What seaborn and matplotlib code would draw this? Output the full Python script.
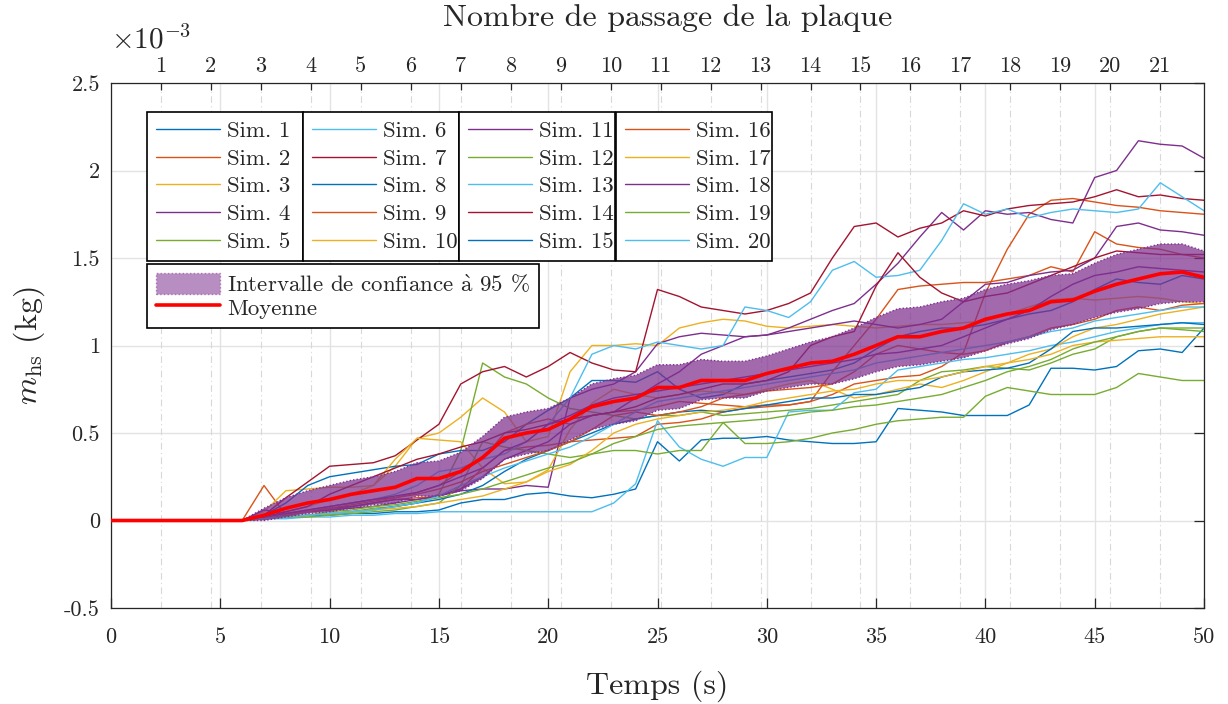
import numpy as np
import pandas as pd
import matplotlib
matplotlib.use("Agg")
import matplotlib.pyplot as plt
import seaborn as sns
from matplotlib.lines import Line2D
from matplotlib.patches import Patch

# ---------------- data (values in 1e-3 kg) ----------------
t = [0, 6, 7, 8, 9, 10, 11, 12, 13, 14, 15, 16, 17, 18, 19, 20, 21, 22, 23, 24, 25,
     26, 27, 28, 29, 30, 31, 32, 33, 34, 35, 36, 37, 38, 39, 40, 41, 42, 43, 44, 45,
     46, 47, 48, 49, 50]

sim1 = [0, 0, .01, .02, .03, .03, .04, .04, .05, .05, .06, .10, .12, .12, .15, .16,
        .14, .13, .15, .18, .45, .34, .46, .47, .47, .48, .46, .45, .44, .44, .45,
        .64, .63, .62, .60, .60, .60, .66, .87, .87, .86, .88, .97, .98, .96, 1.10]
sim2 = [0, 0, .20, .03, .05, .06, .08, .10, .12, .13, .14, .18, .30, .40, .42, .43,
        .45, .46, .47, .48, .55, .56, .58, .62, .64, .65, .66, .68, .72, .78, .80,
        .82, .83, .88, .96, 1.30, 1.55, 1.75, 1.83, 1.84, 1.82, 1.80, 1.79, 1.77, 1.76, 1.75]
sim3 = [0, 0, .05, .17, .18, .19, .19, .20, .31, .47, .50, .59, .70, .62, .45, .48,
        .85, 1.00, 1.00, 1.01, 1.00, 1.10, 1.13, 1.15, 1.14, 1.11, 1.10, 1.11, 1.12, 1.11, 1.10,
        1.11, 1.12, 1.12, 1.13, 1.14, 1.18, 1.22, 1.26, 1.27, 1.26, 1.27, 1.28, 1.27, 1.25, 1.24]
sim4 = [0, 0, .06, .04, .05, .07, .08, .10, .12, .12, .14, .17, .18, .18, .20, .19,
        .70, .75, .78, .85, 1.01, 1.05, 1.07, 1.06, 1.05, 1.06, 1.10, 1.15, 1.20, 1.24, 1.35,
        1.47, 1.62, 1.76, 1.66, 1.77, 1.75, 1.76, 1.72, 1.70, 1.96, 2.00, 2.17, 2.15, 2.14, 2.07]
sim5 = [0, 0, .01, .02, .03, .04, .05, .07, .08, .10, .15, .40, .90, .82, .78, .70,
        .64, .62, .60, .58, .60, .60, .62, .60, .61, .62, .63, .64, .66, .68, .70,
        .72, .80, .85, .86, .88, .87, .86, .90, .95, .98, 1.05, 1.08, 1.10, 1.09, 1.08]
sim6 = [0, 0, .01, .01, .02, .02, .03, .03, .04, .04, .05, .05, .05, .05, .05, .05,
        .05, .05, .10, .21, .57, .42, .35, .31, .36, .36, .62, .63, .63, .73, .75,
        .86, .88, .90, .92, .93, .95, .97, 1.00, 1.02, 1.05, 1.08, 1.10, 1.12, 1.13, 1.13]
sim7 = [0, 0, .03, .13, .22, .31, .32, .33, .37, .46, .55, .78, .85, .88, .82, .88,
        .96, .90, .86, .85, 1.32, 1.28, 1.22, 1.20, 1.18, 1.20, 1.24, 1.30, 1.50, 1.68, 1.70,
        1.62, 1.67, 1.70, 1.77, 1.74, 1.78, 1.80, 1.81, 1.82, 1.85, 1.89, 1.85, 1.86, 1.84, 1.83]
sim8 = [0, 0, .03, .10, .20, .25, .27, .29, .31, .32, .38, .40, .40, .45, .55, .63,
        .70, .80, .80, .79, .85, .75, .70, .72, .78, .80, .82, .84, .86, .90, .98,
        1.05, 1.08, 1.10, 1.10, 1.12, 1.15, 1.18, 1.20, 1.25, 1.32, 1.38, 1.36, 1.35, 1.40, 1.38]
sim9 = [0, 0, .02, .04, .06, .08, .10, .12, .13, .16, .20, .28, .35, .50, .55, .58,
        .55, .60, .62, .63, .65, .68, .67, .66, .65, .66, .66, .68, .85, 1.00, 1.15,
        1.32, 1.34, 1.35, 1.36, 1.36, 1.38, 1.40, 1.45, 1.42, 1.65, 1.58, 1.56, 1.55, 1.52, 1.50]
sim10 = [0, 0, .02, .05, .08, .12, .15, .20, .35, .47, .46, .45, .30, .21, .22, .29,
         .52, .67, .75, .72, .70, .72, .74, .73, .72, .75, .78, .80, .75, .70, .72,
         .75, .78, .76, .80, .85, .90, .95, .98, 1.05, 1.10, 1.12, 1.15, 1.18, 1.20, 1.22]
sim11 = [0, 0, .01, .03, .05, .06, .07, .08, .10, .12, .14, .18, .25, .35, .40, .45,
         .55, .60, .62, .70, .78, .85, .95, 1.00, 1.05, 1.06, 1.08, 1.10, 1.12, 1.14, 1.12,
         1.10, 1.12, 1.15, 1.25, 1.35, 1.36, 1.40, 1.42, 1.43, 1.50, 1.68, 1.70, 1.66, 1.65, 1.63]
sim12 = [0, 0, .01, .02, .02, .03, .04, .05, .06, .08, .10, .20, .45, .42, .40, .38,
         .36, .38, .40, .40, .38, .40, .40, .56, .44, .44, .45, .47, .50, .52, .55,
         .57, .58, .59, .59, .71, .76, .74, .72, .72, .72, .76, .84, .82, .80, .80]
sim13 = [0, 0, .01, .03, .05, .08, .10, .12, .15, .20, .28, .30, .35, .38, .45, .55,
         .70, .95, 1.00, .98, 1.02, 1.00, .98, 1.00, 1.22, 1.20, 1.16, 1.25, 1.43, 1.48, 1.39,
         1.40, 1.43, 1.60, 1.81, 1.75, 1.78, 1.73, 1.76, 1.78, 1.77, 1.76, 1.78, 1.93, 1.85, 1.77]
sim14 = [0, 0, .02, .05, .08, .15, .20, .25, .30, .35, .38, .42, .45, .50, .52, .55,
         .58, .60, .62, .65, .70, .72, .75, .78, .78, .80, .85, 1.00, 1.05, 1.08, 1.34,
         1.53, 1.39, 1.30, 1.25, 1.28, 1.30, 1.35, 1.40, 1.45, 1.50, 1.54, 1.53, 1.52, 1.52, 1.52]
sim15 = [0, 0, .01, .02, .03, .04, .05, .06, .08, .10, .12, .15, .20, .28, .35, .40,
         .45, .50, .55, .58, .60, .62, .63, .62, .64, .66, .68, .70, .70, .72, .72,
         .74, .76, .82, .85, .86, .87, .90, .98, 1.08, 1.10, 1.10, 1.11, 1.12, 1.13, 1.12]
sim16 = [0, 0, .01, .03, .05, .07, .09, .11, .13, .15, .18, .22, .28, .32, .36, .40,
         .45, .52, .60, .62, .60, .62, .65, .70, .72, .74, .75, .76, .78, .85, .95,
         1.00, .98, .96, .95, .97, 1.02, 1.05, 1.10, 1.12, 1.15, 1.20, 1.22, 1.20, 1.23, 1.24]
sim17 = [0, 0, .01, .02, .03, .04, .05, .06, .07, .08, .10, .12, .14, .18, .22, .28,
         .32, .40, .50, .55, .58, .60, .62, .63, .65, .68, .70, .72, .74, .75, .78,
         .80, .80, .82, .85, .88, .90, .92, .95, 1.00, 1.02, 1.03, 1.04, 1.05, 1.05, 1.05]
sim18 = [0, 0, .02, .04, .06, .08, .10, .12, .14, .16, .20, .25, .30, .40, .45, .55,
         .60, .66, .70, .72, .74, .76, .78, .80, .82, .84, .86, .88, .90, .92, .95,
         .96, .98, 1.00, 1.05, 1.10, 1.15, 1.20, 1.28, 1.35, 1.40, 1.42, 1.45, 1.44, 1.43, 1.42]
sim19 = [0, 0, .01, .02, .03, .05, .06, .08, .09, .11, .13, .15, .18, .22, .26, .30,
         .33, .38, .44, .48, .52, .54, .55, .56, .57, .58, .60, .62, .63, .65, .66,
         .68, .70, .72, .76, .80, .85, .88, .92, .98, 1.02, 1.05, 1.08, 1.10, 1.10, 1.10]
sim20 = [0, 0, .01, .02, .03, .04, .05, .06, .08, .10, .14, .20, .25, .30, .34, .38,
         .42, .48, .55, .62, .68, .70, .72, .74, .76, .78, .80, .82, .84, .86, .90,
         .92, .94, .96, .98, 1.00, 1.02, 1.05, 1.08, 1.10, 1.14, 1.16, 1.18, 1.20, 1.22, 1.22]

mean_t = [0, 6, 7, 8, 9, 10, 11, 12, 13, 14, 15, 16, 17, 18, 19, 20, 21, 22, 23, 24, 25,
          26, 27, 28, 29, 30, 31, 32, 33, 34, 35, 36, 37, 38, 39, 40, 41, 42, 43, 44, 45,
          46, 47, 48, 49, 50]
mean_vals = [0, 0, .03, .07, .10, .12, .15, .17, .19, .24, .24, .28, .36, .47, .50, .52,
             .58, .65, .68, .70, .76, .76, .80, .80, .80, .84, .87, .90, .91, .95, 1.00,
             1.05, 1.05, 1.08, 1.10, 1.15, 1.18, 1.20, 1.25, 1.26, 1.31, 1.35, 1.38, 1.41, 1.42, 1.39]
ci_low = [0, 0, 0, .02, .04, .05, .07, .09, .10, .14, .14, .17, .24, .35, .38, .40,
          .46, .52, .55, .57, .63, .64, .69, .70, .70, .74, .76, .78, .78, .81, .85,
          .88, .89, .91, .93, .97, 1.01, 1.04, 1.09, 1.12, 1.16, 1.19, 1.21, 1.24, 1.25, 1.25]
ci_high = [0, 0, .07, .13, .17, .20, .23, .25, .28, .33, .34, .39, .48, .59, .62, .64,
           .70, .78, .81, .83, .89, .89, .92, .91, .91, .94, .98, 1.02, 1.05, 1.10, 1.16,
           1.21, 1.22, 1.25, 1.27, 1.32, 1.35, 1.37, 1.40, 1.41, 1.47, 1.52, 1.55, 1.58, 1.58, 1.54]

sims = [sim1, sim2, sim3, sim4, sim5, sim6, sim7, sim8, sim9, sim10,
        sim11, sim12, sim13, sim14, sim15, sim16, sim17, sim18, sim19, sim20]
sim_labels = [f"Sim. {i}" for i in range(1, 21)]

pass_numbers = list(range(1, 22))
pass_period = 16 / 7  # seconds per plate pass

y_ticks = [-0.5, 0, 0.5, 1, 1.5, 2, 2.5]
y_ticklabels = ["-0.5", "0", "0.5", "1", "1.5", "2", "2.5"]
x_ticks = [0, 5, 10, 15, 20, 25, 30, 35, 40, 45, 50]

matlab_colors = ["#0072BD", "#D95319", "#EDB120", "#7E2F8E", "#77AC30", "#4DBEEE", "#A2142F"]
colors = [matlab_colors[i % 7] for i in range(20)]

# ---------------- style ----------------
sns.set_theme(style="white")
plt.rcParams["font.family"] = ["cmr10", "DejaVu Serif"]
plt.rcParams["mathtext.fontset"] = "cm"
plt.rcParams["axes.unicode_minus"] = False
plt.rcParams["axes.formatter.use_mathtext"] = True

fig = plt.figure(figsize=(12.28, 7.04), dpi=100)
ax = fig.add_axes([111 / 1228, 96 / 704, 1093 / 1228, 525 / 704])

dark = "#262626"

# grid
for xv in x_ticks:
    ax.axvline(xv, color="#e3e3e3", lw=1.0, zorder=0)
for yv in y_ticks:
    ax.axhline(yv, color="#e3e3e3", lw=1.0, zorder=0)
for n in pass_numbers:
    ax.axvline(n * pass_period, color="#d8d8d8", lw=0.8, ls=(0, (6, 3, 1, 3)), zorder=0)

# simulations
df = pd.DataFrame({
    "t": np.tile(t, len(sims)),
    "m": np.concatenate([np.asarray(s) for s in sims]),
    "sim": np.repeat(sim_labels, len(t)),
})
sns.lineplot(data=df, x="t", y="m", hue="sim", palette=dict(zip(sim_labels, colors)),
             estimator=None, legend=False, linewidth=1.0, ax=ax, zorder=2)

# confidence band and mean
band_color = "#7E2F8E"
ax.fill_between(mean_t, ci_low, ci_high, facecolor=band_color, alpha=0.72,
                edgecolor="none", zorder=3)
ax.plot(mean_t, ci_low, color=band_color, lw=1.0, ls=(0, (1, 1.5)), zorder=3)
ax.plot(mean_t, ci_high, color=band_color, lw=1.0, ls=(0, (1, 1.5)), zorder=3)
sns.lineplot(x=mean_t, y=mean_vals, color="#FF0000", linewidth=2.6, ax=ax, zorder=4)

# axes
ax.set_xlim(0, 50)
ax.set_ylim(-0.5, 2.5)
ax.set_xticks(x_ticks)
ax.set_xticklabels([str(v) for v in x_ticks])
ax.set_yticks(y_ticks)
ax.set_yticklabels(y_ticklabels)
ax.tick_params(axis="both", direction="in", length=7, width=0.9, colors=dark,
               labelsize=16, top=True, right=True, pad=8)
ax.tick_params(axis="x", labeltop=False, pad=14)
for sp in ax.spines.values():
    sp.set_color(dark)
    sp.set_linewidth(0.9)
ax.set_xlabel("Temps (s)", fontsize=23, color=dark, labelpad=17)
ax.set_ylabel(r"$m_{\mathrm{hs}}$ (kg)", fontsize=23, color=dark, labelpad=12)
ax.grid(False)

ax2 = ax.twiny()
ax2.set_xlim(0, 50)
ax2.set_xticks([n * pass_period for n in pass_numbers])
ax2.set_xticklabels([str(n) for n in pass_numbers])
ax2.tick_params(axis="x", direction="in", length=5, width=0.9, colors=dark,
                labelsize=16, pad=5)
for sp in ax2.spines.values():
    sp.set_visible(False)
ax2.set_xlabel("Nombre de passage de la plaque", fontsize=23, color=dark)
ax2.xaxis.set_label_coords((668 - 111) / 1093, (608 - 18) / 525)
ax2.xaxis.label.set_va("center")
ax2.grid(False)

fig.text(111 / 1228, 1 - 40 / 704, r"$\times 10^{-3}$", fontsize=21, color=dark,
         ha="left", va="center")

# legends
handles = [Line2D([], [], color=c, lw=1.0) for c in colors]
W = 1093.0
H = 525.0
col_x = [147, 303, 459, 616]
for c in range(4):
    x0 = (col_x[c] - 111) / W
    leg = ax.legend(handles[5 * c:5 * c + 5], sim_labels[5 * c:5 * c + 5],
                    loc="upper left", bbox_to_anchor=(x0, (608 - 112) / H, 156 / W, 0),
                    mode="expand", fontsize=16.5, frameon=True, fancybox=False,
                    framealpha=1, edgecolor="black", handlelength=2.8,
                    handletextpad=0.3, labelspacing=0.33, borderpad=0.4,
                    borderaxespad=0)
    leg.get_frame().set_linewidth(1.2)
    leg.set_zorder(10)
    ax.add_artist(leg)

band_handle = Patch(facecolor=band_color, alpha=0.55, edgecolor=band_color,
                    linestyle=":", linewidth=1.0)
mean_handle = Line2D([], [], color="#FF0000", lw=2.6)
leg2 = ax.legend([band_handle, mean_handle],
                 ["Intervalle de confiance " + r"$\mathrm{\grave{a}}$" + " 95 %", "Moyenne"],
                 loc="upper left", bbox_to_anchor=((147 - 111) / W, (608 - 264) / H, 392 / W, 0),
                 mode="expand", fontsize=16.5, frameon=True, fancybox=False, framealpha=1,
                 edgecolor="black", handlelength=2.8, handleheight=1.0,
                 handletextpad=0.3, labelspacing=0.05, borderpad=0.4, borderaxespad=0)
leg2.get_frame().set_linewidth(1.2)
leg2.set_zorder(10)

fig.savefig("out.png", dpi=100)
